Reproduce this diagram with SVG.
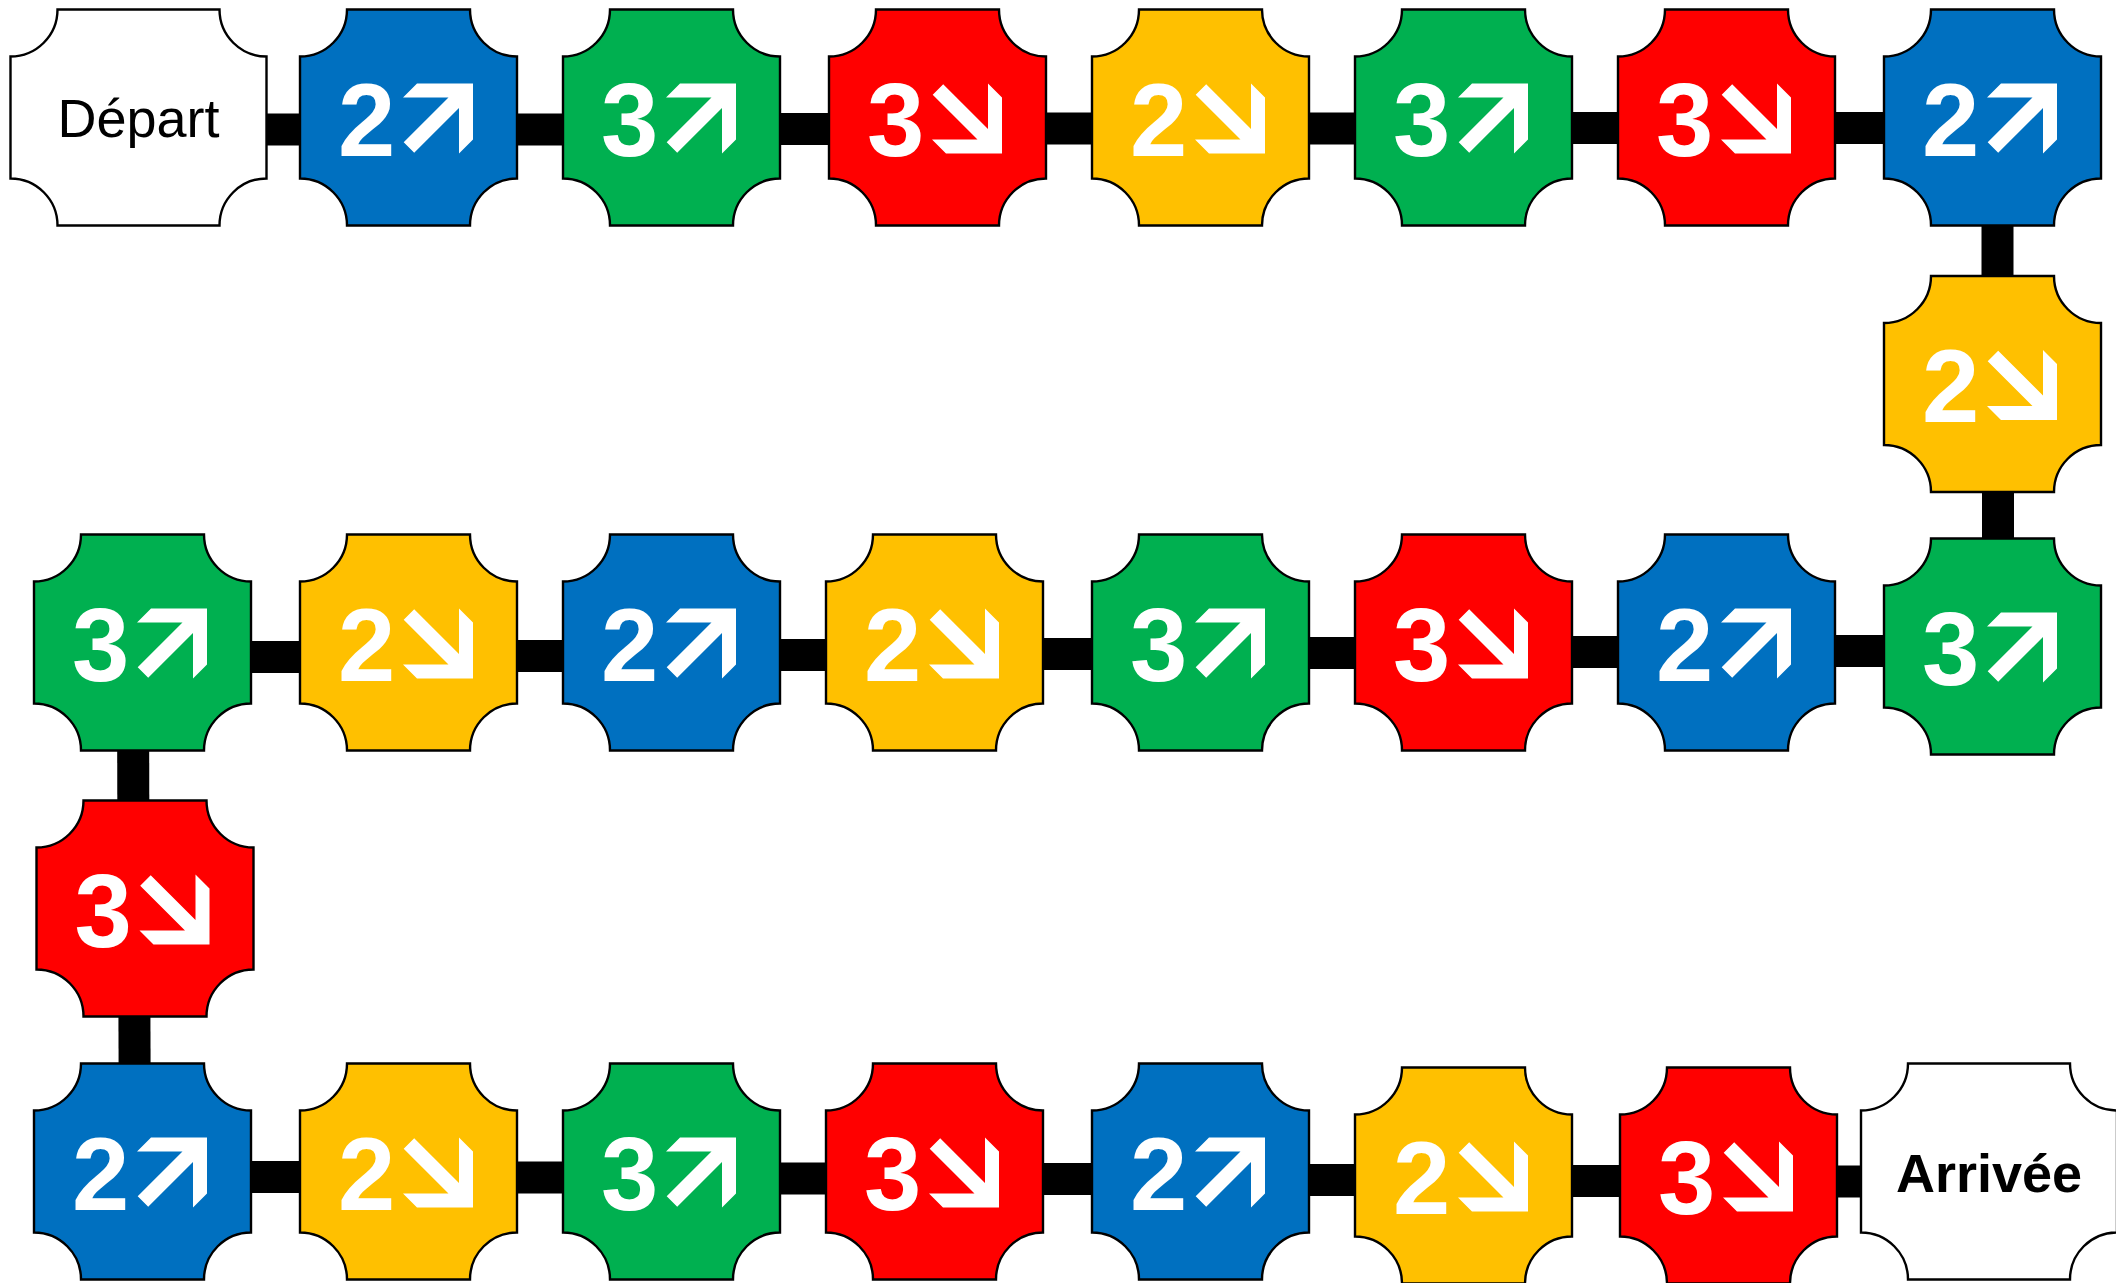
<svg xmlns="http://www.w3.org/2000/svg" xmlns:xlink="http://www.w3.org/1999/xlink" width="2116" height="1283" viewBox="0 0 2116 1283">
<style>
.tile{stroke:#000;stroke-width:2.4}
.blue{fill:#0070C0}.green{fill:#00B050}.red{fill:#FF0000}.yellow{fill:#FFC000}.white{fill:#FFFFFF}
.num{font-family:"Liberation Sans",Arial,sans-serif;font-weight:bold;font-size:103px;fill:#fff}
.arr{fill:#fff}
.lbl{font-family:"Liberation Sans",Arial,sans-serif;font-size:54px;fill:#000;text-anchor:middle}
.conn line{stroke:#000;stroke-width:32}
</style>
<defs>
<path id="tile" d="M47,0 H170 A47,47 0 0 0 217,47 V169 A47,47 0 0 0 170,216 H47 A47,47 0 0 0 0,169 V47 A47,47 0 0 0 47,0 Z"/>
<path id="wtile" d="M47,0 H209 A47,47 0 0 0 256,47 V169 A47,47 0 0 0 209,216 H47 A47,47 0 0 0 0,169 V47 A47,47 0 0 0 47,0 Z"/>
<polygon id="up" points="56,70 70,56 70,0 14,0 0,14 45.5,14 0.7,58.8 11.2,69.3 56,24.5"/>
<polygon id="dn" points="56,0 70,14 70,70 14,70 0,56 45.5,56 0.7,11.2 11.2,0.7 56,45.5"/>
</defs>
<rect width="2116" height="1283" fill="#fff"/>
<g id="connectors" class="conn">
<line x1="139" y1="129.5" x2="408" y2="129.5"/>
<line x1="408" y1="129.5" x2="671" y2="129.5"/>
<line x1="671" y1="129" x2="937" y2="129"/>
<line x1="937" y1="128.5" x2="1200" y2="128.5"/>
<line x1="1200" y1="128.5" x2="1463" y2="128.5"/>
<line x1="1463" y1="128" x2="1727" y2="128"/>
<line x1="1727" y1="128" x2="1992" y2="128"/>
<line x1="1997.5" y1="117" x2="1997.5" y2="383"/>
<line x1="1998" y1="383" x2="1998" y2="647"/>
<line x1="1992" y1="651" x2="1727" y2="651"/>
<line x1="1727" y1="652" x2="1463" y2="652"/>
<line x1="1463" y1="653" x2="1200" y2="653"/>
<line x1="1200" y1="654" x2="934" y2="654"/>
<line x1="934" y1="655" x2="671" y2="655"/>
<line x1="671" y1="656" x2="408" y2="656"/>
<line x1="408" y1="657" x2="142" y2="657"/>
<line x1="133" y1="642" x2="133.5" y2="908"/>
<line x1="134" y1="908" x2="135" y2="1171"/>
<line x1="142" y1="1177" x2="408" y2="1177"/>
<line x1="408" y1="1177.5" x2="671" y2="1177.5"/>
<line x1="671" y1="1178.5" x2="934" y2="1178.5"/>
<line x1="934" y1="1179" x2="1200" y2="1179"/>
<line x1="1200" y1="1180" x2="1463" y2="1180"/>
<line x1="1463" y1="1181" x2="1729" y2="1181"/>
<line x1="1729" y1="1181.5" x2="1990" y2="1181.5"/>
</g>
<g id="depart" transform="translate(10.5,9.5)"><use xlink:href="#wtile" class="tile white"/><text class="lbl" x="128" y="127">Départ</text></g>
<g id="r1c2" transform="translate(300,9.5)"><use xlink:href="#tile" class="tile blue"/><text class="num" x="38" y="146">2</text><use xlink:href="#up" class="arr" transform="translate(103,74)"/></g>
<g id="r1c3" transform="translate(563,9.5)"><use xlink:href="#tile" class="tile green"/><text class="num" x="38" y="146">3</text><use xlink:href="#up" class="arr" transform="translate(103,74)"/></g>
<g id="r1c4" transform="translate(829,9.5)"><use xlink:href="#tile" class="tile red"/><text class="num" x="38" y="146">3</text><use xlink:href="#dn" class="arr" transform="translate(103,74)"/></g>
<g id="r1c5" transform="translate(1092,9.5)"><use xlink:href="#tile" class="tile yellow"/><text class="num" x="38" y="146">2</text><use xlink:href="#dn" class="arr" transform="translate(103,74)"/></g>
<g id="r1c6" transform="translate(1355,9.5)"><use xlink:href="#tile" class="tile green"/><text class="num" x="38" y="146">3</text><use xlink:href="#up" class="arr" transform="translate(103,74)"/></g>
<g id="r1c7" transform="translate(1618,9.5)"><use xlink:href="#tile" class="tile red"/><text class="num" x="38" y="146">3</text><use xlink:href="#dn" class="arr" transform="translate(103,74)"/></g>
<g id="r1c8" transform="translate(1884,9.5)"><use xlink:href="#tile" class="tile blue"/><text class="num" x="38" y="146">2</text><use xlink:href="#up" class="arr" transform="translate(103,74)"/></g>
<g id="side1" transform="translate(1884,276)"><use xlink:href="#tile" class="tile yellow"/><text class="num" x="38" y="146">2</text><use xlink:href="#dn" class="arr" transform="translate(103,74)"/></g>
<g id="r2c8" transform="translate(1884,538.5)"><use xlink:href="#tile" class="tile green"/><text class="num" x="38" y="146">3</text><use xlink:href="#up" class="arr" transform="translate(103,74)"/></g>
<g id="r2c7" transform="translate(1618,534.5)"><use xlink:href="#tile" class="tile blue"/><text class="num" x="38" y="146">2</text><use xlink:href="#up" class="arr" transform="translate(103,74)"/></g>
<g id="r2c6" transform="translate(1355,534.5)"><use xlink:href="#tile" class="tile red"/><text class="num" x="38" y="146">3</text><use xlink:href="#dn" class="arr" transform="translate(103,74)"/></g>
<g id="r2c5" transform="translate(1092,534.5)"><use xlink:href="#tile" class="tile green"/><text class="num" x="38" y="146">3</text><use xlink:href="#up" class="arr" transform="translate(103,74)"/></g>
<g id="r2c4" transform="translate(826,534.5)"><use xlink:href="#tile" class="tile yellow"/><text class="num" x="38" y="146">2</text><use xlink:href="#dn" class="arr" transform="translate(103,74)"/></g>
<g id="r2c3" transform="translate(563,534.5)"><use xlink:href="#tile" class="tile blue"/><text class="num" x="38" y="146">2</text><use xlink:href="#up" class="arr" transform="translate(103,74)"/></g>
<g id="r2c2" transform="translate(300,534.5)"><use xlink:href="#tile" class="tile yellow"/><text class="num" x="38" y="146">2</text><use xlink:href="#dn" class="arr" transform="translate(103,74)"/></g>
<g id="r2c1" transform="translate(34,534.5)"><use xlink:href="#tile" class="tile green"/><text class="num" x="38" y="146">3</text><use xlink:href="#up" class="arr" transform="translate(103,74)"/></g>
<g id="side2" transform="translate(36.5,800.5)"><use xlink:href="#tile" class="tile red"/><text class="num" x="38" y="146">3</text><use xlink:href="#dn" class="arr" transform="translate(103,74)"/></g>
<g id="r3c1" transform="translate(34,1063.5)"><use xlink:href="#tile" class="tile blue"/><text class="num" x="38" y="146">2</text><use xlink:href="#up" class="arr" transform="translate(103,74)"/></g>
<g id="r3c2" transform="translate(300,1063.5)"><use xlink:href="#tile" class="tile yellow"/><text class="num" x="38" y="146">2</text><use xlink:href="#dn" class="arr" transform="translate(103,74)"/></g>
<g id="r3c3" transform="translate(563,1063.5)"><use xlink:href="#tile" class="tile green"/><text class="num" x="38" y="146">3</text><use xlink:href="#up" class="arr" transform="translate(103,74)"/></g>
<g id="r3c4" transform="translate(826,1063.5)"><use xlink:href="#tile" class="tile red"/><text class="num" x="38" y="146">3</text><use xlink:href="#dn" class="arr" transform="translate(103,74)"/></g>
<g id="r3c5" transform="translate(1092,1063.5)"><use xlink:href="#tile" class="tile blue"/><text class="num" x="38" y="146">2</text><use xlink:href="#up" class="arr" transform="translate(103,74)"/></g>
<g id="r3c6" transform="translate(1355,1067.5)"><use xlink:href="#tile" class="tile yellow"/><text class="num" x="38" y="146">2</text><use xlink:href="#dn" class="arr" transform="translate(103,74)"/></g>
<g id="r3c7" transform="translate(1620,1067.5)"><use xlink:href="#tile" class="tile red"/><text class="num" x="38" y="146">3</text><use xlink:href="#dn" class="arr" transform="translate(103,74)"/></g>
<g id="arrivee" transform="translate(1861,1063.5)"><use xlink:href="#wtile" class="tile white"/><text class="lbl" x="128" y="128" font-weight="bold">Arrivée</text></g>
</svg>
